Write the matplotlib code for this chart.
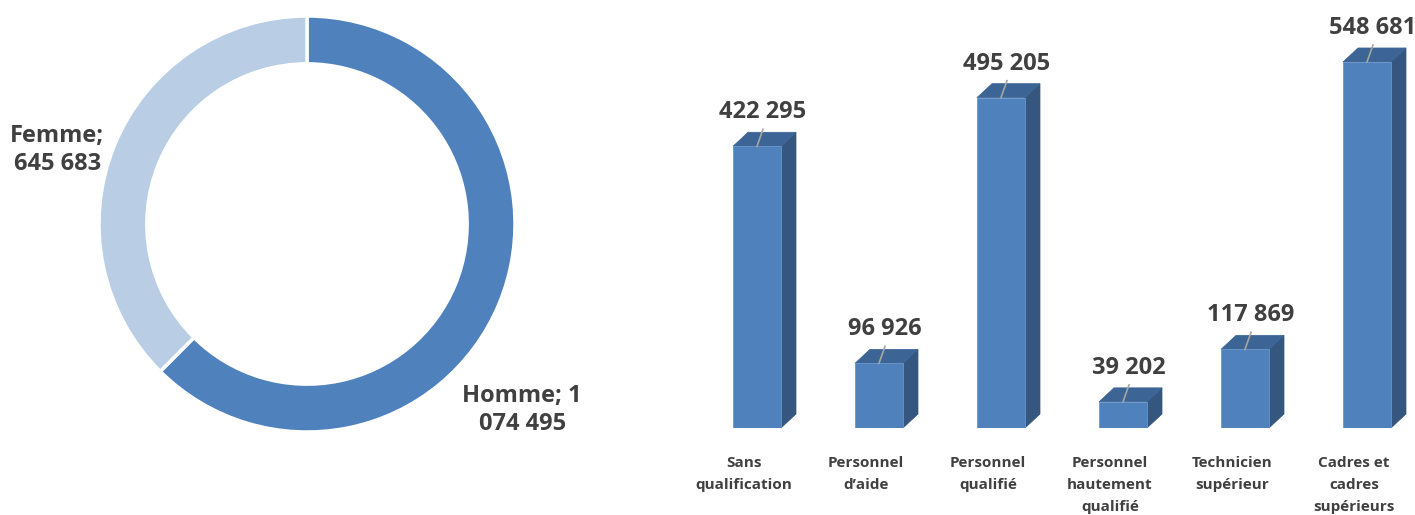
import matplotlib
matplotlib.use("Agg")
import matplotlib.pyplot as plt
from matplotlib.patches import Polygon

# donut data
sexes = ["Homme", "Femme"]
sex_values = [1074495, 645683]
sex_labels = ["Homme; 1\n074 495", "Femme;\n645 683"]

# bar data
categories = [
    "Sans\nqualification",
    "Personnel\nd\u2019aide",
    "Personnel\nqualifié",
    "Personnel\nhautement\nqualifié",
    "Technicien\nsupérieur",
    "Cadres et\ncadres\nsupérieurs",
]
effectifs = [422295, 96926, 495205, 39202, 117869, 548681]
value_labels = ["422 295", "96 926", "495 205", "39 202", "117 869", "548 681"]

FRONT = "#4F81BD"
SIDE = "#34567F"
TOP = "#3C6494"
LIGHT = "#B9CDE5"
TXT = "#404040"
FONT = "Open Sans"


def main():
    W, H = 1415, 515
    fig = plt.figure(figsize=(W / 100, H / 100), dpi=100)

    # --- donut ---
    cx, cy, r = 307, 224, 208
    ax1 = fig.add_axes([(cx - r) / W, (H - cy - r) / H, 2 * r / W, 2 * r / H])
    ax1.pie(sex_values, colors=[FRONT, LIGHT], startangle=90, counterclock=False,
            radius=1, wedgeprops=dict(width=0.23, edgecolor="white", linewidth=2.5))
    ax1.set_xlim(-1, 1)
    ax1.set_ylim(-1, 1)
    ax1.set_aspect("equal")
    ax1.axis("off")
    ax1.text(1.034, -0.894, sex_labels[0], ha="center", va="center",
             fontsize=17, fontweight="bold", color=TXT, family=FONT,
             linespacing=1.25, clip_on=False)
    ax1.text(-1.20, 0.356, sex_labels[1], ha="center", va="center",
             fontsize=17, fontweight="bold", color=TXT, family=FONT,
             linespacing=1.25, clip_on=False)

    # --- 3D-looking bars ---
    step = 122.0
    px_per_val = 1499.0
    base_px = 428
    left_px = 696
    ax2 = fig.add_axes([left_px / W, (H - base_px) / H, (W - left_px) / W, base_px / H])
    x0 = -0.5
    ax2.set_xlim(x0, x0 + (W - left_px) / step)
    ax2.set_ylim(0, base_px * px_per_val)
    ax2.axis("off")

    bw = 48 / step
    dx = 15 / step
    dy = 14 * px_per_val
    xs = list(range(len(effectifs)))
    ax2.bar(xs, effectifs, width=bw, color=FRONT, edgecolor="#6A96CC",
            linewidth=0.6, zorder=3)
    for x, v, lab, cat in zip(xs, effectifs, value_labels, categories):
        l, rr = x - bw / 2, x + bw / 2
        side = Polygon([(rr, 0), (rr + dx, dy), (rr + dx, v + dy), (rr, v)],
                       closed=True, facecolor=SIDE, edgecolor=SIDE, lw=0.5,
                       zorder=2, clip_on=False)
        top = Polygon([(l, v), (l + dx, v + dy), (rr + dx, v + dy), (rr, v)],
                      closed=True, facecolor=TOP, edgecolor=TOP, lw=0.5,
                      zorder=2, clip_on=False)
        ax2.add_patch(side)
        ax2.add_patch(top)
        # leader line
        ax2.plot([x, x + 6 / step], [v, v + 17 * px_per_val], color="#A6A6A6",
                 lw=1.2, zorder=4, clip_on=False)
        ax2.text(x + 6 / step, v + 28 * px_per_val, lab, ha="center",
                 va="baseline", fontsize=17, fontweight="bold", color=TXT,
                 family=FONT, clip_on=False)
        ax2.text(x - 13 / step, -28 * px_per_val, cat, ha="center", va="top",
                 fontsize=11, fontweight="bold", color=TXT, family=FONT,
                 linespacing=1.75, clip_on=False)

    fig.savefig("out.png", dpi=100, facecolor="white")
    return 0


if __name__ == "__main__":
    main()
